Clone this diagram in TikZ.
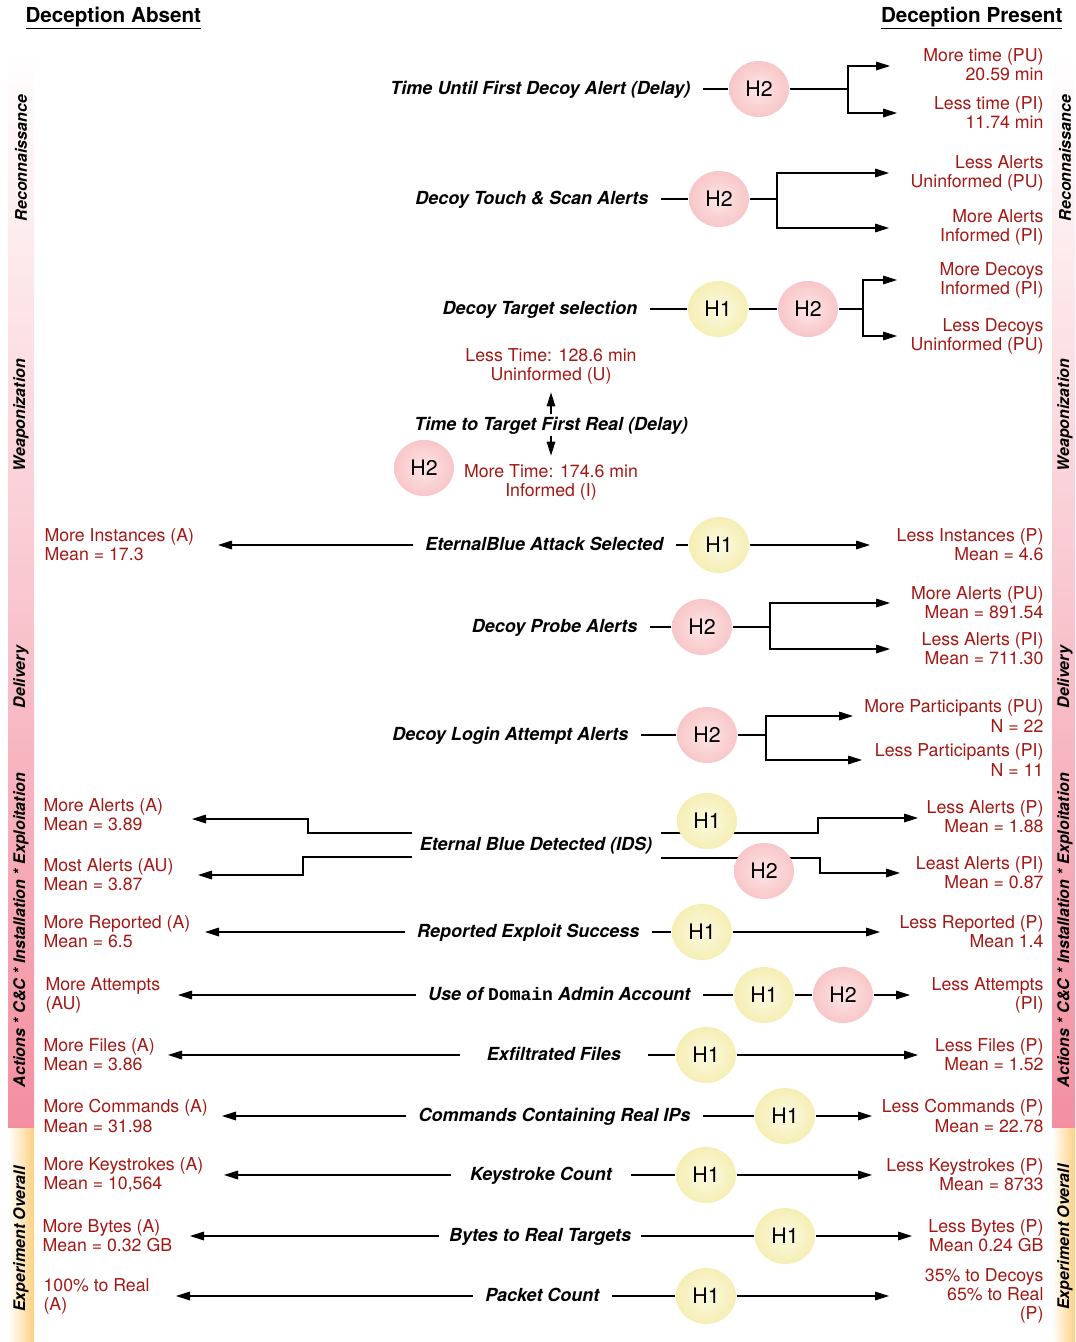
\documentclass[tikz,border=0pt]{standalone}
\usepackage{fontspec}
\setmainfont{TeX Gyre Heros}
\newfontfamily\domfont{Liberation Mono}
\usetikzlibrary{shapes.geometric,arrows.meta}
\definecolor{valred}{RGB}{163,24,20}
\definecolor{h1in}{RGB}{252,250,226}
\definecolor{h1out}{RGB}{245,238,180}
\definecolor{h2in}{RGB}{253,230,230}
\definecolor{h2out}{RGB}{248,198,200}
\definecolor{barpink}{RGB}{243,143,160}
\definecolor{barorange}{RGB}{253,208,128}
\newcommand{\valfont}{\fontsize{13.3}{14.3}\selectfont}
\newcommand{\labfont}{\fontsize{13.5}{15}\selectfont\bfseries\itshape}
\begin{document}
\begin{tikzpicture}[x=0.75pt,y=-0.75pt,
    >={Triangle[length=10.5pt,width=6.5pt]}, line width=0.8pt,
    lab/.style={font=\labfont, inner xsep=9pt, inner ysep=2pt, text height=9.8pt, text depth=2.2pt},
    hnode/.style={ellipse, minimum width=45pt, minimum height=42pt, inner sep=0pt,
      font=\fontsize{16}{16}\selectfont},
    hone/.style={hnode, inner color=h1in, outer color=h1out},
    htwo/.style={hnode, inner color=h2in, outer color=h2out},
    val/.style={text=valred, inner sep=0pt, font=\valfont},
    valr/.style={val, anchor=east, align=right},
    vall/.style={val, anchor=west, align=left},
    phase/.style={rotate=90, font=\fontsize{12}{12}\selectfont\bfseries\itshape},
    head/.style={inner sep=0pt, font=\fontsize{15.5}{16}\selectfont\bfseries}]
  \useasboundingbox (0,0) rectangle (1075,1342);
  % side bars
  \shade[top color=white, bottom color=barpink] (8,50) rectangle (34,1128);
  \shade[left color=white, right color=barorange] (8,1128) rectangle (34,1342);
  \shade[top color=white, bottom color=barpink] (1052,55) rectangle (1075,1128);
  \shade[left color=white, right color=barorange] (1052,1128) rectangle (1075,1342);
  \node[phase] (pl1) at (21,158) {Reconnaissance};
  \node[phase] (pl2) at (21,415) {Weaponization};
  \node[phase] (pl3) at (21,677) {Delivery};
  \node[phase] (pl4) at (21,930) {Actions * C\&C * Installation * Exploitation};
  \node[phase] (pl5) at (21,1239) {Experiment Overall};
  \node[phase] (pr1) at (1065,158) {Reconnaissance};
  \node[phase] (pr2) at (1065,415) {Weaponization};
  \node[phase] (pr3) at (1065,677) {Delivery};
  \node[phase] (pr4) at (1065,930) {Actions * C\&C * Installation * Exploitation};
  \node[phase] (pr5) at (1065,1237) {Experiment Overall};
  % headings
  \node[head, anchor=west] (absent) at (25,18) {\underline{Deception Absent}};
  \node[head, anchor=east] (present) at (1063,18) {\underline{Deception Present}};

  % reconnaissance
  \node[lab, anchor=east] (l1) at (703,89) {Time Until First Decoy Alert (Delay)};
  \node[htwo] (h1) at (759,89) {H2};
  \coordinate (b1) at (848,89);
  \coordinate (t1a) at (890,66);
  \coordinate (t1b) at (897,113);
  \node[valr] (r1a) at (1044,65) {More time (PU)\\20.59 min};
  \node[valr] (r1b) at (1044,113) {Less time (PI)\\11.74 min};
  \draw (l1) -- (h1) -- (b1);
  \draw[->] (b1) |- (t1a);
  \draw[->] (b1) |- (t1b);

  \node[lab, anchor=east] (l2) at (661,199) {Decoy Touch \& Scan Alerts};
  \node[htwo] (h2) at (719,199) {H2};
  \coordinate (b2) at (777,199);
  \coordinate (t2a) at (889,173);
  \coordinate (t2b) at (889,228);
  \node[valr] (r2a) at (1044,173) {Less Alerts\\Uninformed (PU)};
  \node[valr] (r2b) at (1044,227) {More Alerts\\Informed (PI)};
  \draw (l2) -- (h2) -- (b2);
  \draw[->] (b2) |- (t2a);
  \draw[->] (b2) |- (t2b);

  % weaponization
  \node[lab, anchor=east] (l3) at (650,309) {Decoy Target selection};
  \node[hone] (h3a) at (718,309) {H1};
  \node[htwo] (h3b) at (808,309) {H2};
  \coordinate (b3) at (863,309);
  \coordinate (t3a) at (897,280);
  \coordinate (t3b) at (897,336);
  \node[valr] (r3a) at (1044,280) {More Decoys\\Informed (PI)};
  \node[valr] (r3b) at (1044,336) {Less Decoys\\Uninformed (PU)};
  \draw (l3) -- (h3a) -- (h3b) -- (b3);
  \draw[->] (b3) |- (t3a);
  \draw[->] (b3) |- (t3b);

  \node[lab] (l4) at (551,425) {Time to Target First Real (Delay)};
  \node[val, align=center, inner sep=6pt] (u4) at (551,366) {Less Time: 128.6 min\\Uninformed (U)};
  \node[val, align=center, inner sep=6pt] (d4) at (551,482) {More Time: 174.6 min\\Informed (I)};
  \node[htwo] (h4) at (424,468) {H2};
  \draw[->] (l4) -- (u4);
  \draw[->] (l4) -- (d4);

  % delivery
  \node[lab, anchor=east] (l5) at (676,545) {EternalBlue Attack Selected};
  \node[hone] (h5) at (719,545) {H1};
  \coordinate (t5l) at (218,545);
  \coordinate (t5r) at (870,545);
  \node[vall] (a5) at (44,545) {More Instances (A)\\Mean = 17.3};
  \node[valr] (r5) at (1044,545) {Less Instances (P)\\Mean = 4.6};
  \draw[->] (l5) -- (t5l);
  \draw (l5) -- (h5);
  \draw[->] (h5) -- (t5r);

  \node[lab, anchor=east] (l6) at (650,627) {Decoy Probe Alerts};
  \node[htwo] (h6) at (702,627) {H2};
  \coordinate (b6) at (770,627);
  \coordinate (t6a) at (890,603);
  \coordinate (t6b) at (890,649);
  \node[valr] (r6a) at (1044,603) {More Alerts (PU)\\Mean = 891.54};
  \node[valr] (r6b) at (1044,649) {Less Alerts (PI)\\Mean = 711.30};
  \draw (l6) -- (h6) -- (b6);
  \draw[->] (b6) |- (t6a);
  \draw[->] (b6) |- (t6b);

  \node[lab, anchor=east] (l7) at (641,735) {Decoy Login Attempt Alerts};
  \node[htwo] (h7) at (707,735) {H2};
  \coordinate (b7) at (766,735);
  \coordinate (t7a) at (853,716);
  \coordinate (t7b) at (862,760);
  \node[valr] (r7a) at (1044,716) {More Participants (PU)\\N = 22};
  \node[valr] (r7b) at (1044,760) {Less Participants (PI)\\N = 11};
  \draw (l7) -- (h7) -- (b7);
  \draw[->] (b7) |- (t7a);
  \draw[->] (b7) |- (t7b);

  % actions, c&c, installation, exploitation
  \node[lab, inner xsep=8pt] (l8) at (536,845) {Eternal Blue Detected (IDS)};
  \coordinate (s8a) at (412,833);
  \coordinate (s8b) at (412,857);
  \coordinate (s8c) at (661,833);
  \coordinate (s8d) at (661,858);
  \coordinate (t8a) at (192,819);
  \coordinate (t8b) at (198,875);
  \coordinate (t8c) at (918,818);
  \coordinate (t8d) at (900,873);
  \draw[->] (s8a) -- (308,833) |- (t8a);
  \draw[->] (s8b) -- (303,857) |- (t8b);
  \draw[->] (s8c) -- (818,833) |- (t8c);
  \draw[->] (s8d) -- (820,858) |- (t8d);
  \node[hone] (h8a) at (707,821) {H1};
  \node[htwo] (h8b) at (764,871) {H2};
  \node[vall] (a8a) at (43,815) {More Alerts (A)\\Mean = 3.89};
  \node[vall] (a8b) at (43,875) {Most Alerts (AU)\\Mean = 3.87};
  \node[valr] (r8a) at (1044,817) {Less Alerts (P)\\Mean = 1.88};
  \node[valr] (r8b) at (1044,873) {Least Alerts (PI)\\Mean = 0.87};

  \node[lab, anchor=east] (l9) at (652,932) {Reported Exploit Success};
  \node[hone] (h9) at (702,932) {H1};
  \coordinate (t9l) at (205,932);
  \coordinate (t9r) at (880,932);
  \node[vall] (a9) at (43,932) {More Reported (A)\\Mean = 6.5};
  \node[valr] (r9) at (1044,932) {Less Reported (P)\\Mean 1.4};
  \draw[->] (l9) -- (t9l);
  \draw (l9) -- (h9);
  \draw[->] (h9) -- (t9r);

  \node[lab, anchor=east] (l10) at (703,995) {Use of {\domfont\upshape\bfseries Domain} Admin Account};
  \node[hone] (h10a) at (764,995) {H1};
  \node[htwo] (h10b) at (843,995) {H2};
  \coordinate (t10l) at (178,995);
  \coordinate (t10r) at (910,995);
  \node[vall] (a10) at (45,995) {More Attempts\\(AU)};
  \node[valr] (r10) at (1044,995) {Less Attempts\\(PI)};
  \draw[->] (l10) -- (t10l);
  \draw (l10) -- (h10a) -- (h10b);
  \draw[->] (h10b) -- (t10r);

  \node[lab, anchor=east, inner xsep=20pt] (l11) at (648,1055) {Exfiltrated Files};
  \node[hone] (h11) at (706,1055) {H1};
  \coordinate (t11l) at (168,1055);
  \coordinate (t11r) at (918,1055);
  \node[vall] (a11) at (43,1055) {More Files (A)\\Mean = 3.86};
  \node[valr] (r11) at (1044,1055) {Less Files (P)\\Mean = 1.52};
  \draw[->] (l11) -- (t11l);
  \draw (l11) -- (h11);
  \draw[->] (h11) -- (t11r);

  \node[lab, anchor=east] (l12) at (703,1116) {Commands Containing Real IPs};
  \node[hone] (h12) at (785,1116) {H1};
  \coordinate (t12l) at (222,1116);
  \coordinate (t12r) at (872,1116);
  \node[vall] (a12) at (43,1116) {More Commands (A)\\Mean = 31.98};
  \node[valr] (r12) at (1044,1116) {Less Commands (P)\\Mean = 22.78};
  \draw[->] (l12) -- (t12l);
  \draw (l12) -- (h12);
  \draw[->] (h12) -- (t12r);

  % experiment overall
  \node[lab, anchor=east, inner xsep=14pt] (l13) at (631,1175) {Keystroke Count};
  \node[hone] (h13) at (706,1175) {H1};
  \coordinate (t13l) at (224,1175);
  \coordinate (t13r) at (872,1175);
  \node[vall] (a13) at (43,1175) {More Keystrokes (A)\\Mean = 10,564};
  \node[valr] (r13) at (1044,1175) {Less Keystrokes (P)\\Mean = 8733};
  \draw[->] (l13) -- (t13l);
  \draw (l13) -- (h13);
  \draw[->] (h13) -- (t13r);

  \node[lab, anchor=east, inner xsep=7pt] (l14) at (641,1236) {Bytes to Real Targets};
  \node[hone] (h14) at (785,1236) {H1};
  \coordinate (t14l) at (190,1236);
  \coordinate (t14r) at (912,1236);
  \node[vall] (a14) at (42,1236) {More Bytes (A)\\Mean = 0.32 GB};
  \node[valr] (r14) at (1044,1236) {Less Bytes (P)\\Mean 0.24 GB};
  \draw[->] (l14) -- (t14l);
  \draw (l14) -- (h14);
  \draw[->] (h14) -- (t14r);

  \node[lab, anchor=east] (l15) at (612,1296) {Packet Count};
  \node[hone] (h15) at (706,1296) {H1};
  \coordinate (t15l) at (176,1296);
  \coordinate (t15r) at (889,1296);
  \node[vall] (a15) at (43,1296) {100\% to Real\\(A)};
  \node[valr] (r15) at (1044,1296) {35\% to Decoys\\65\% to Real\\(P)};
  \draw[->] (l15) -- (t15l);
  \draw (l15) -- (h15);
  \draw[->] (h15) -- (t15r);
\end{tikzpicture}
\end{document}
